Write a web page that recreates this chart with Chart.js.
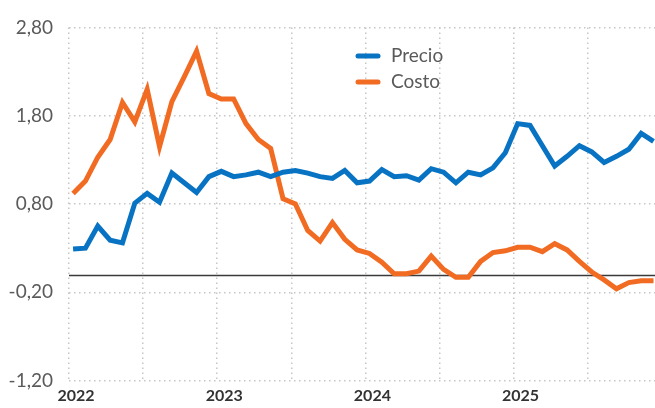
<!DOCTYPE html>
<html>
<head>
<meta charset="utf-8">
<script src="https://cdn.jsdelivr.net/npm/chart.js@4"></script>
<style>
  html, body { margin: 0; padding: 0; background: #fff; }
  #wrap { width: 655px; height: 408px; }
</style>
</head>
<body>
<div id="wrap"><canvas id="chart" width="655" height="408"></canvas></div>
<script>
// monthly data, Jan 2022 - Dec 2025
const months = [];
for (let y = 2022; y <= 2025; y++) {
    for (let m = 1; m <= 12; m++) months.push(y + '-' + String(m).padStart(2, '0'));
}
const precio = [0.29, 0.30, 0.55, 0.39, 0.36, 0.81, 0.92, 0.82, 1.15, 1.04,
    0.93, 1.11, 1.17, 1.11, 1.13, 1.16, 1.11, 1.16, 1.18, 1.15,
    1.11, 1.09, 1.18, 1.04, 1.06, 1.19, 1.11, 1.12, 1.07, 1.20,
    1.16, 1.04, 1.16, 1.13, 1.21, 1.38, 1.71, 1.69, 1.46, 1.23,
    1.34, 1.46, 1.39, 1.27, 1.34, 1.42, 1.60, 1.51];
const costo = [0.92, 1.06, 1.33, 1.53, 1.95, 1.73, 2.10, 1.45, 1.96, 2.24,
    2.53, 2.05, 1.99, 1.99, 1.71, 1.53, 1.43, 0.86, 0.80, 0.50,
    0.38, 0.59, 0.40, 0.28, 0.24, 0.14, 0.01, 0.01, 0.04, 0.21,
    0.06, -0.03, -0.03, 0.15, 0.25, 0.27, 0.31, 0.31, 0.26, 0.35,
    0.28, 0.15, 0.03, -0.06, -0.16, -0.09, -0.07, -0.07];
const yearLabels = ['2022', '2023', '2024', '2025'];
const yTicks = [-1.2, -0.2, 0.8, 1.8, 2.8];
const seriesNames = ['Precio', 'Costo'];
const seriesColors = ['#0873c3', '#f26b22'];

// half-year gridlines, slightly before the first monthly point
const xStart = -0.33;
const xTicks = [];
for (let k = 0; k < 8; k++) xTicks.push(xStart + 6 * k);

const toPoints = (arr) => arr.map((v, i) => ({ x: i, y: v }));

const gridColor = '#c6c6c6';

// zero line + legend drawn in the plot
const extras = {
    id: 'extras',
    beforeDatasetsDraw(chart) {
        const { ctx, chartArea, scales } = chart;
        const y0 = Math.round(scales.y.getPixelForValue(0)) + 0.5;
        ctx.save();
        ctx.strokeStyle = '#3a3a3a';
        ctx.lineWidth = 1.5;
        ctx.beginPath();
        ctx.moveTo(chartArea.left, y0);
        ctx.lineTo(chartArea.right, y0);
        ctx.stroke();
        ctx.restore();
    },
    afterDatasetsDraw(chart) {
        const { ctx } = chart;
        ctx.save();
        ctx.font = '19px Lato';
        ctx.textBaseline = 'middle';
        seriesNames.forEach((name, i) => {
            const y = 56 + i * 26;
            ctx.strokeStyle = seriesColors[i];
            ctx.lineWidth = 5;
            ctx.lineCap = 'round';
            ctx.beginPath();
            ctx.moveTo(358, y);
            ctx.lineTo(378, y);
            ctx.stroke();
            ctx.fillStyle = '#5a5a5a';
            ctx.fillText(name, 391, y);
        });
        ctx.restore();
    }
};

new Chart(document.getElementById('chart'), {
    type: 'line',
    data: {
        labels: months,
        datasets: [
            {
                label: seriesNames[0],
                data: toPoints(precio),
                borderColor: seriesColors[0],
                borderWidth: 5,
                pointRadius: 0,
                tension: 0
            },
            {
                label: seriesNames[1],
                data: toPoints(costo),
                borderColor: seriesColors[1],
                borderWidth: 5,
                pointRadius: 0,
                tension: 0
            }
        ]
    },
    options: {
        responsive: false,
        animation: false,
        devicePixelRatio: 1,
        layout: { padding: { top: 24, right: 0, bottom: 0, left: 0 } },
        plugins: {
            legend: { display: false },
            tooltip: { enabled: false }
        },
        scales: {
            x: {
                type: 'linear',
                min: xStart,
                max: 47.12,
                afterBuildTicks: (scale) => { scale.ticks = xTicks.map((v) => ({ value: v })); },
                afterFit: (scale) => { scale.height = 25; },
                grid: { color: gridColor, lineWidth: 1.5, drawTicks: false },
                border: { display: false, dash: [1.5, 3.5] },
                ticks: {
                    autoSkip: false,
                    maxRotation: 0,
                    padding: 6,
                    labelOffset: 7,
                    color: '#333',
                    font: { family: 'Lato', size: 16, weight: 'bold' },
                    callback: (v, i) => (i % 2 === 0 ? yearLabels[i / 2] : '')
                }
            },
            y: {
                min: -1.2,
                max: 2.8,
                afterBuildTicks: (scale) => { scale.ticks = yTicks.map((v) => ({ value: v })); },
                afterFit: (scale) => { scale.width = 69; },
                grid: { color: gridColor, lineWidth: 1.5, drawTicks: false },
                border: { display: false, dash: [1.5, 3.5] },
                ticks: {
                    padding: 16,
                    color: '#5a5a5a',
                    font: { family: 'Lato', size: 19, weight: '400' },
                    callback: (v) => v.toFixed(2).replace('.', ',')
                }
            }
        }
    },
    plugins: [extras]
});
</script>
</body>
</html>
